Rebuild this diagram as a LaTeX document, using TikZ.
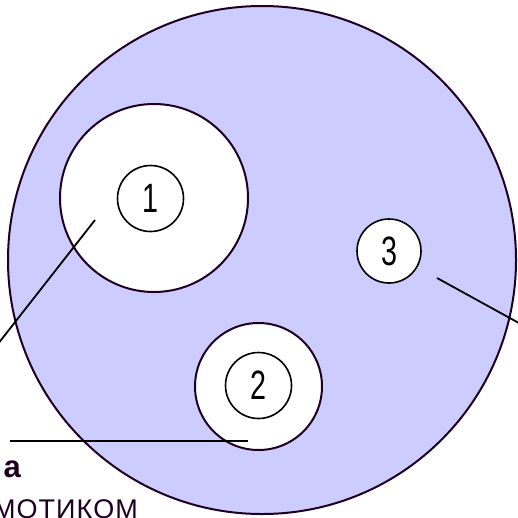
\documentclass[tikz,border=0pt]{standalone}
\usepackage{fontspec}
\setmainfont{Liberation Sans}
\newcommand{\gp}{\hspace{1pt}}
\begin{document}
\begin{tikzpicture}[x=1pt,y=-1pt,
  outline/.style={draw=ink,line width=2pt},
  hole/.style={outline,fill=white,circle,inner sep=0pt},
  numring/.style={draw=black,line width=1.6pt,fill=white,circle,inner sep=0pt,minimum size=66pt,font=\fontsize{41}{41}\selectfont},
  leader/.style={draw=black,line width=1.8pt},
  lbl/.style={text=ink,inner sep=0pt}]
\definecolor{ink}{HTML}{200020}
\definecolor{cell}{HTML}{CCCCFF}
\useasboundingbox (0,0) rectangle (518,517);
% big circle
\node[circle,draw=ink,line width=2pt,fill=cell,minimum size=508pt,inner sep=0pt] (big) at (262,260) {};
% organelle 1
\node[hole,minimum size=188pt] (o1) at (154,198) {};
\node[numring] (n1) at (150.5,198.5) {\scalebox{0.7}[1]{1}};
% organelle 2
\node[hole,minimum size=127pt] (o2) at (258.5,386.5) {};
\node[numring] (n2) at (258.5,385.5) {\scalebox{0.7}[1]{2}};
% organelle 3
\node[numring,minimum size=64pt] (n3) at (389,251) {\scalebox{0.7}[1]{3}};
% leader lines
\coordinate (l1a) at (95,220);
\coordinate (l1b) at (-6,349);
\draw[leader] (l1a) -- (l1b);
\coordinate (l2a) at (248,441);
\coordinate (l2b) at (10,441);
\draw[leader] (l2a) -- (l2b);
\coordinate (l3a) at (437,278);
\coordinate (l3b) at (528,328);
\draw[leader] (l3a) -- (l3b);
% labels
\node[lbl,anchor=base east,font=\fontsize{31}{31}\selectfont\bfseries] (ta) at (21,477) {а};
\node[lbl,anchor=base west,font=\fontsize{27}{27}\selectfont] (tb) at (-7,518) {М\gp О\gp Т\gp И\gp К\gp О\gp М};
\end{tikzpicture}
\end{document}
